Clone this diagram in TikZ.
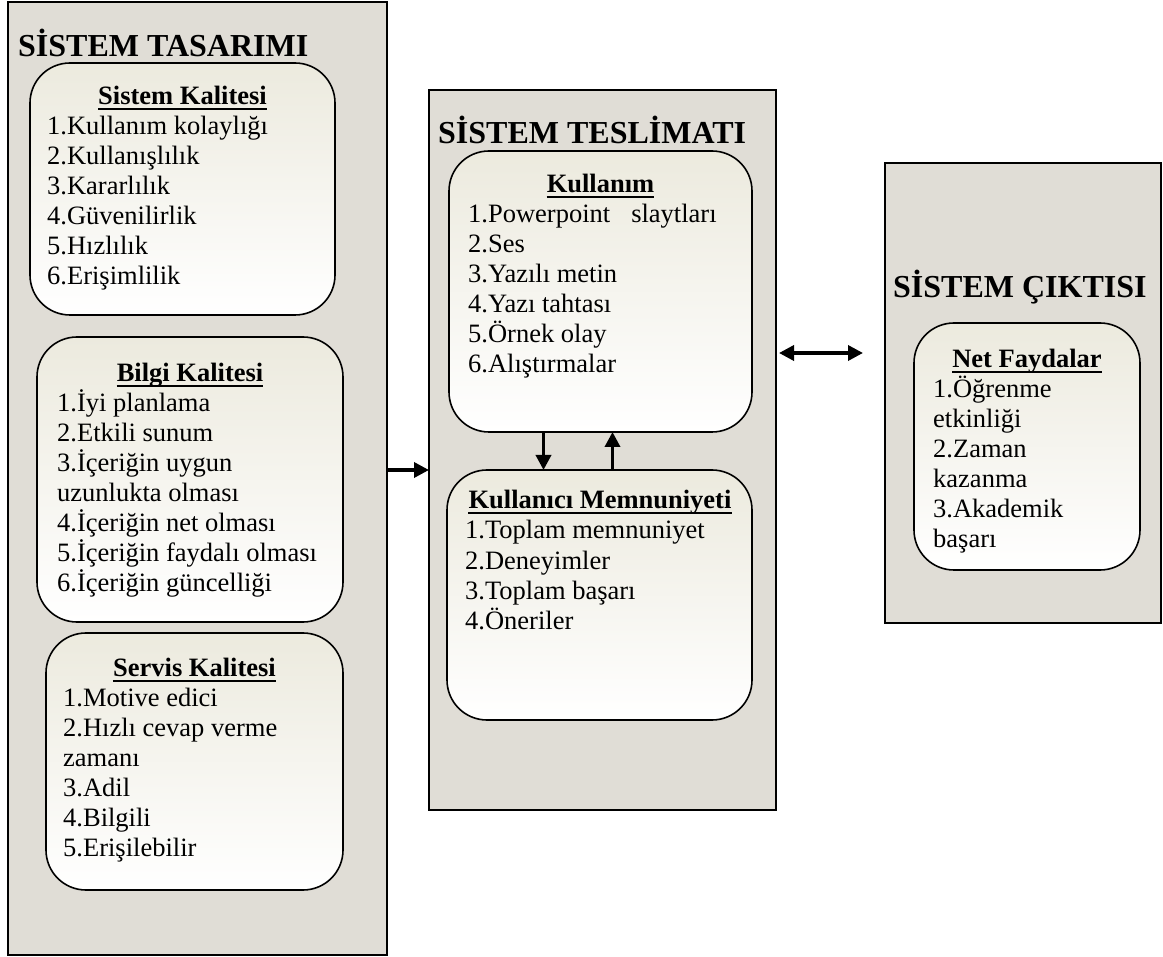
\documentclass[tikz,border=0pt]{standalone}
\usepackage{fontspec}
\setmainfont{Liberation Serif}
\usetikzlibrary{arrows.meta,calc}
\definecolor{panelfill}{RGB}{224,221,214}
\definecolor{boxtop}{RGB}{236,234,222}
\begin{document}
\begin{tikzpicture}[x=1pt,y=-1pt,
 panel/.style={draw=black, line width=2pt, fill=panelfill, anchor=north west, inner sep=0pt, outer sep=0pt},
 qbox/.style={draw=black, line width=1.6pt, rounded corners=40pt, top color=boxtop, bottom color=white, anchor=north west, inner sep=0pt, outer sep=0pt},
 ptitle/.style={anchor=base west, inner sep=0pt, font=\fontsize{32}{38}\selectfont\bfseries},
 subt/.style={anchor=base, inner sep=0pt, font=\fontsize{26.5}{30}\selectfont\bfseries},
 item/.style={anchor=base west, inner sep=0pt, font=\fontsize{26.5}{30}\selectfont},
 uline/.style={line width=2pt},
 conn/.style={line width=3.5pt, -{Triangle[length=15pt,width=15pt]}},
 dconn/.style={line width=3.5pt, {Triangle[length=15pt,width=15pt]}-{Triangle[length=15pt,width=15pt]}},
]
\useasboundingbox (0,0) rectangle (1163,957);

% panels
\node[panel, minimum width=379pt, minimum height=953pt] (tasarim) at (8,2) {};
\node[panel, minimum width=347pt, minimum height=720pt] (teslimat) at (429,90) {};
\node[panel, minimum width=276pt, minimum height=460pt] (cikti) at (885,163) {};

% titles
\node[ptitle] (t1) at (18,56.5) {SİSTEM TASARIMI};
\node[ptitle] (t2) at (438,143.5) {SİSTEM TESLİMATI};
\node[ptitle] (t3) at (893,297.5) {SİSTEM ÇIKTISI};

% boxes
\node[qbox, minimum width=305pt, minimum height=252pt] (sk) at (30,63) {};
\node[qbox, minimum width=306pt, minimum height=285pt] (bk) at (37,337) {};
\node[qbox, minimum width=297pt, minimum height=257pt] (svk) at (46,633) {};
\node[qbox, minimum width=303pt, minimum height=281pt] (kul) at (449,151) {};
\node[qbox, minimum width=305pt, minimum height=250pt] (km) at (447,470) {};
\node[qbox, minimum width=226pt, minimum height=247pt] (nf) at (914,323) {};

% subtitles
\node[subt] (skh) at (182.5,104.5) {Sistem Kalitesi};
\node[subt] (bkh) at (190,381.5) {Bilgi Kalitesi};
\node[subt] (svkh) at (194.5,676) {Servis Kalitesi};
\node[subt] (kulh) at (600.5,193) {Kullanım};
\node[subt] (kmh) at (600,509) {Kullanıcı Memnuniyeti};
\node[subt] (nfh) at (1027,368) {Net Faydalar};
\foreach \h in {skh,bkh,svkh,kulh,kmh,nfh}
  \draw[uline] ($(\h.base west)+(0,4.5)$) -- ($(\h.base east)+(0,4.5)$);

% items
\foreach \t [count=\i] in {1.Kullanım kolaylığı,2.Kullanışlılık,3.Kararlılık,4.Güvenilirlik,5.Hızlılık,6.Erişimlilik}
  \node[item] (sk-\i) at (47,{104.5+30*\i}) {\t};
\foreach \t [count=\i] in {1.İyi planlama,2.Etkili sunum,3.İçeriğin uygun,uzunlukta olması,4.İçeriğin net olması,5.İçeriğin faydalı olması,6.İçeriğin güncelliği}
  \node[item] (bk-\i) at (57,{381.5+30*\i}) {\t};
\foreach \t [count=\i] in {1.Motive edici,2.Hızlı cevap verme,zamanı,3.Adil,4.Bilgili,5.Erişilebilir}
  \node[item] (svk-\i) at (63,{676+30*\i}) {\t};
\foreach \t [count=\i] in {1.Powerpoint\hspace{21pt}slaytları,2.Ses,3.Yazılı metin,4.Yazı tahtası,5.Örnek olay,6.Alıştırmalar}
  \node[item] (kul-\i) at (468,{193+30*\i}) {\t};
\foreach \t [count=\i] in {1.Toplam memnuniyet,2.Deneyimler,3.Toplam başarı,4.Öneriler}
  \node[item] (km-\i) at (465,{509+30*\i}) {\t};
\foreach \t [count=\i] in {1.Öğrenme,etkinliği,2.Zaman,kazanma,3.Akademik,başarı}
  \node[item] (nf-\i) at (933,{368+30*\i}) {\t};

% connectors
\draw[conn] (tasarim.east |- km.north) -- (teslimat.west |- km.north);
\draw[conn] ([xshift=-57pt]kul.south) -- ([xshift=-57pt]kul.south |- km.north);
\draw[conn] ([xshift=12pt]kul.south |- km.north) -- ([xshift=12pt]kul.south);
\coordinate (d1) at (779,353);
\coordinate (d2) at (863,353);
\draw[dconn] (d1) -- (d2);
\end{tikzpicture}
\end{document}
